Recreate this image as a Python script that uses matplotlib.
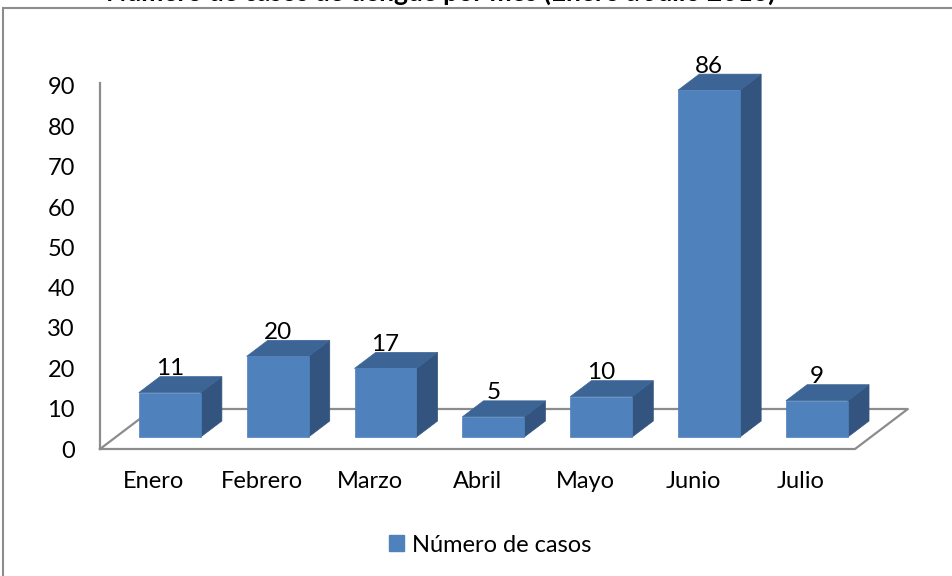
import matplotlib
matplotlib.use("Agg")
import matplotlib.pyplot as plt
from matplotlib.patches import Polygon, Rectangle, Patch

# datos del grafico
meses = ["Enero", "Febrero", "Marzo", "Abril", "Mayo", "Junio", "Julio"]
casos = [11, 20, 17, 5, 10, 86, 9]
titulo = "Número de casos de dengue por mes (Enero a Julio 2016)"
serie = "Número de casos"
yticks = [0, 10, 20, 30, 40, 50, 60, 70, 80, 90]

plt.rcParams['font.family'] = ['Lato', 'DejaVu Sans']

c_front = "#4f81bd"
c_top = "#3c6596"
c_side = "#33547e"
c_line = "#8c8c8c"

# perspectiva falsa (tipo Excel 3D)
DX, DY = 0.49, 9.92     # profundidad total del piso
BZ0, BZ1 = 0.30, 0.70   # profundidad de las barras
W = 0.574

fig = plt.figure(figsize=(9.52, 5.76), dpi=100)
ax = fig.add_axes([100 / 952, (576 - 449) / 576, 755 / 952, (449 - 86) / 576])
ax.set_xlim(-0.5, 6.5)
ax.set_ylim(0, 90)
for s in ax.spines.values():
    s.set_visible(False)

# piso y pared
ax.plot([-0.5, -0.5], [0, 90.8], color=c_line, lw=1.6, clip_on=False, zorder=1)
ax.plot([-0.5, 6.5, 6.5 + DX, -0.5 + DX, -0.5], [0, 0, DY, DY, 0],
        color=c_line, lw=1.6, clip_on=False, zorder=1)

o0x, o0y = BZ0 * DX, BZ0 * DY
o1x, o1y = BZ1 * DX, BZ1 * DY
for i, v in enumerate(casos):
    x0, x1 = i - W / 2, i + W / 2
    side = [(x1 + o0x, o0y), (x1 + o1x, o1y), (x1 + o1x, v + o1y), (x1 + o0x, v + o0y)]
    top = [(x0 + o0x, v + o0y), (x1 + o0x, v + o0y), (x1 + o1x, v + o1y), (x0 + o1x, v + o1y)]
    front = [(x0 + o0x, o0y), (x1 + o0x, o0y), (x1 + o0x, v + o0y), (x0 + o0x, v + o0y)]
    for pts, c in [(side, c_side), (top, c_top), (front, c_front)]:
        ax.add_patch(Polygon(pts, closed=True, fc=c, ec=c, lw=0.5, clip_on=False, zorder=2))
    ax.text(i + o0x, v + o1y + 0.4, str(v), ha="center", va="baseline",
            fontsize=17.5, zorder=3, clip_on=False)

ax.set_yticks(yticks)
ax.set_yticklabels([str(t) for t in yticks], fontsize=17)
ax.set_xticks(range(len(meses)))
ax.set_xticklabels(meses, fontsize=17)
ax.tick_params(axis="y", length=0, pad=18)
ax.tick_params(axis="x", length=0, pad=16)

# marco exterior (recortado como en la imagen)
fig.add_artist(Rectangle((3 / 952, -0.1), 2, (576 - 8) / 576 + 0.1,
                         transform=fig.transFigure, fill=False, ec=c_line, lw=1.5))

# titulo: solo se ve la parte de abajo, como en la imagen original
fig.text(775 / 952, 1 - 1 / 576, titulo, ha="right", va="baseline",
         fontsize=19, fontweight="bold")

fig.legend(handles=[Patch(color=c_front)], labels=[serie], loc="center",
           bbox_to_anchor=(490 / 952, 1 - 545 / 576), frameon=False,
           fontsize=17, handlelength=0.65, handleheight=0.65, handletextpad=0.3)

fig.savefig("out.png", dpi=100)
